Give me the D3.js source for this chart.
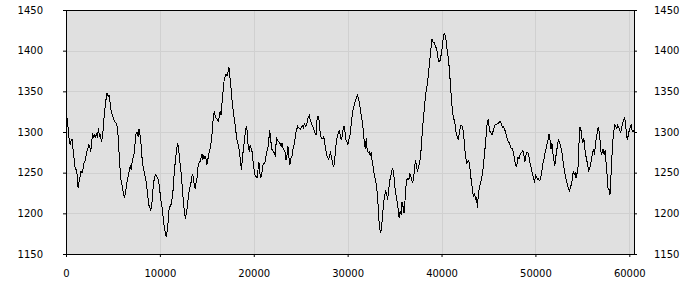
<!DOCTYPE html>
<html>
<head>
<meta charset="utf-8">
<script src="https://cdn.jsdelivr.net/npm/d3@7"></script>
<style>
  body { margin: 0; background: #fff; }
  svg { display: block; }
</style>
</head>
<body>
<div id="chart"></div>
<script>
// series, one sample every 103 units along x
const values = [
  1323,1313,1301,1289,1285,1291,1291,1275,1266,1256,1254,1248,1232,1240,1246,1252,1250,1254,1262,1264,
  1270,1276,1280,1285,1283,1276,1287,1299,1293,1297,1295,1299,1293,1305,1295,1297,1289,1293,1305,1321,
  1332,1342,1349,1344,1346,1338,1328,1323,1319,1316,1313,1312,1310,1303,1282,1262,1244,1238,1232,1223,
  1221,1226,1234,1242,1248,1254,1260,1254,1266,1270,1275,1287,1299,1300,1295,1304,1297,1287,1270,1260,
  1254,1248,1242,1234,1223,1211,1209,1204,1209,1223,1238,1244,1248,1247,1244,1242,1234,1223,1213,1207,
  1195,1185,1178,1172,1178,1189,1205,1209,1211,1217,1226,1244,1258,1270,1280,1287,
  1279,1266,1256,1244,1228,1214,1202,1194,1202,1209,1221,1230,1234,1240,1248,1246,1236,1231,1238,1244,
  1258,1262,1264,1268,1274,1266,1272,1268,1270,1260,1266,1272,1278,1283,1291,1307,1321,1326,1319,1317,
  1316,1314,1320,1326,1321,1340,1352,1364,1369,1372,1370,1374,1380,1368,1356,1342,1331,1321,1313,1303,
  1293,1287,1283,1275,1264,1254,1270,1280,1291,1301,1308,1301,1280,1278,1285,1280,1276,1264,1254,1248,
  1246,1244,1254,1264,1250,1244,1250,1260,1262,1262,1268,1276,1280,1287,1303,1295,1280,1278,1276,1275,
  1270,1293,1291,1289,1288,1286,1283,1287,1280,1278,1276,1266,1272,1283,1270,1260,1268,1270,1278,1283,
  1289,1299,1303,1308,1306,1305,1304,1307,1308,1306,1311,1308,1309,1313,1319,1321,1315,1313,1309,1307,
  1303,1299,1297,1315,1320,1317,1303,1295,1293,1292,1295,1287,1280,1272,1270,1266,1272,1275,1270,1264,
  1258,1262,1275,1289,1295,1299,1303,1297,1291,1295,1303,1308,1301,1291,1289,1285,1291,1295,1305,1317,
  1326,1331,1336,1340,1344,1346,1342,1336,1328,1319,1313,1301,1287,1280,1293,1278,1275,1276,1272,1275,
  1266,1258,1250,1244,1238,1230,1215,1193,1181,1177,1185,1201,1213,1223,1228,1226,1217,1226,1240,1244,
  1250,1256,1252,1242,1228,1221,1215,1205,1195,1203,1199,1215,1209,1201,1215,1234,1242,1244,1242,
  1249,1246,1242,1238,1244,1258,1266,1258,1252,1258,1262,1270,1283,1303,1315,1330,1342,1352,1358,1368,
  1381,1393,1405,1415,1411,1411,1408,1405,1401,1393,1387,1387,1393,1399,1409,1421,1422,1417,1409,1397,
  1391,1376,1360,1342,1328,1319,1315,1309,1299,1295,1291,1297,1305,1309,1308,1303,1293,1278,1268,1262,
  1264,1266,1258,1246,1238,1226,1221,1226,1217,1221,1207,1226,1232,1238,1242,1248,1258,1270,1283,1297,
  1311,1316,1307,1301,1299,1297,1301,1305,1309,1310,1310,1311,1312,1313,1313,1309,1306,1307,1304,1301,
  1295,1291,1289,1287,1284,1280,1280,1276,1270,1262,1258,1262,1270,1268,1272,1275,
  1276,1278,1272,1264,1272,1276,1276,1272,1264,1260,1254,1248,1244,1238,1248,1246,1242,1243,1241,1242,
  1248,1256,1264,1268,1276,1280,1287,1291,1298,1291,1280,1287,1275,1266,1259,1270,1278,1287,1291,1287,
  1283,1278,1270,1260,1252,1246,1240,1236,1232,1228,1232,1236,1242,1252,1248,1250,1244,1250,1258,1287,
  1307,1303,1293,1287,1293,1280,1272,1266,1260,1252,1256,1260,1268,1275,1280,1272,1285,1295,1301,1307,
  1299,1287,1272,1276,1280,1272,1278,1262,1248,1232,1230,1223,1246,1270,1291,1301,1309,1308,1305,1309,
  1307,1303,1299,1305,1311,1314,1319,1313,1299,1291,1297,1303,1307,1309,1301,1303,1300
];
const sampleStep = 103;
const xDomain = [0, 60500];
const yDomain = [1150, 1450];
const xTicks = [0, 10000, 20000, 30000, 40000, 50000, 60000];
const yTicks = [1150, 1200, 1250, 1300, 1350, 1400, 1450];

const W = 700, H = 300;
const L = 66, R = 634, T = 10, B = 254;

const svg = d3.select('#chart').append('svg')
    .attr('width', W).attr('height', H);

const x = d3.scaleLinear().domain(xDomain).range([L, R]);
const y = d3.scaleLinear().domain(yDomain).range([B, T]);

svg.append('rect')
    .attr('x', L + 0.5).attr('y', T + 0.5)
    .attr('width', R - L).attr('height', B - T)
    .attr('fill', '#e0e0e0');

// grid
svg.append('g').selectAll('line').data(xTicks.filter(d => d > xDomain[0])).enter().append('line')
    .attr('x1', d => Math.round(x(d)) + 0.5).attr('x2', d => Math.round(x(d)) + 0.5)
    .attr('y1', T).attr('y2', B)
    .attr('stroke', '#d0d0d0').attr('stroke-width', 1);
svg.append('g').selectAll('line').data(yTicks.filter(d => d > yDomain[0] && d < yDomain[1])).enter().append('line')
    .attr('x1', L).attr('x2', R)
    .attr('y1', d => Math.round(y(d)) + 0.5).attr('y2', d => Math.round(y(d)) + 0.5)
    .attr('stroke', '#d0d0d0').attr('stroke-width', 1);

const line = d3.line().x((d, i) => x(i * sampleStep) + 0.5).y(d => y(d) + 0.5);
svg.append('path').datum(values)
    .attr('fill', 'none').attr('stroke', '#000').attr('stroke-width', 1)
    .attr('shape-rendering', 'crispEdges')
    .attr('d', line);

// frame
svg.append('rect')
    .attr('x', L + 0.5).attr('y', T + 0.5)
    .attr('width', R - L).attr('height', B - T)
    .attr('fill', 'none').attr('stroke', '#000').attr('stroke-width', 1);

function styleAxis(g) {
    g.select('.domain').remove();
    g.attr('font-family', '"DejaVu Sans", sans-serif').attr('font-size', 10);
    g.selectAll('line').attr('stroke', '#000');
    g.selectAll('text').attr('fill', '#000');
}

svg.append('g').attr('transform', `translate(${L},0)`)
    .call(d3.axisLeft(y).tickValues(yTicks).tickSize(3).tickPadding(20).tickFormat(d3.format('d')))
    .call(styleAxis);
svg.append('g').attr('transform', `translate(${R},0)`)
    .call(d3.axisRight(y).tickValues(yTicks).tickSize(3).tickPadding(17).tickFormat(d3.format('d')))
    .call(styleAxis);
svg.append('g').attr('transform', `translate(0,${B})`)
    .call(d3.axisBottom(x).tickValues(xTicks).tickSize(3).tickPadding(13).tickFormat(d3.format('d')))
    .call(styleAxis);
</script>
</body>
</html>
